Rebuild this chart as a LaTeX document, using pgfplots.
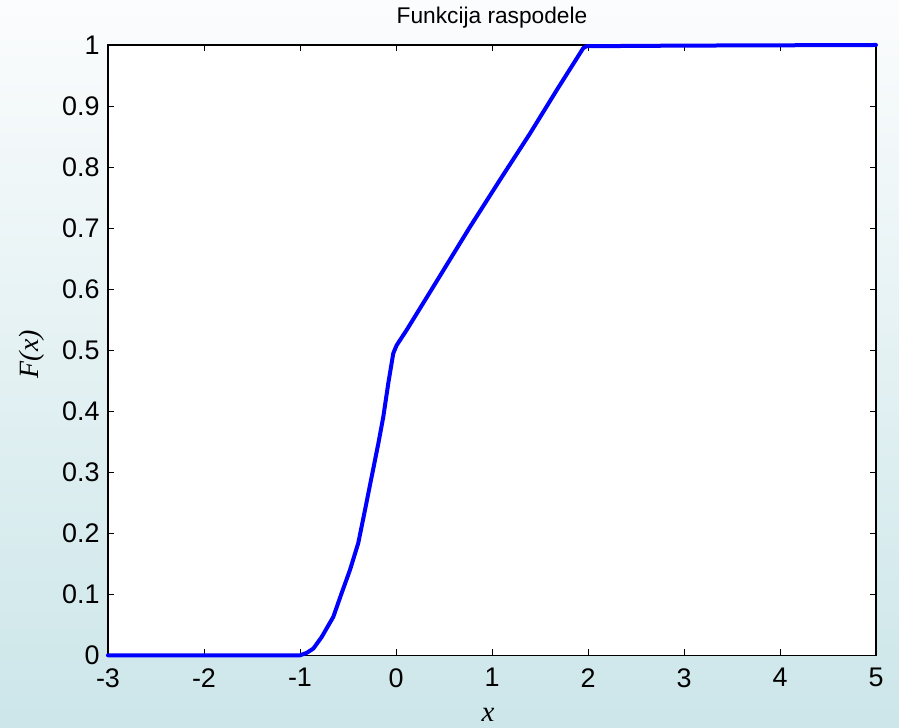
\documentclass[border=0pt]{standalone}
\usepackage{pgfplots}
\pgfplotsset{compat=1.18}
\usepackage{fontspec}
\setmainfont{Liberation Sans}
\newfontfamily\timesfont{Liberation Serif}
\begin{document}
\begin{tikzpicture}
\useasboundingbox (0,0) rectangle (449.5bp,364bp);
\shade[top color={rgb,255:red,251;green,252;blue,253}, bottom color={rgb,255:red,204;green,230;blue,233}] (0,0) rectangle (449.5bp,364bp);
\begin{axis}[
  at={(54bp,36.35bp)}, anchor=south west,
  scale only axis, width=384bp, height=305.15bp,
  xmin=-3, xmax=5, ymin=0, ymax=1,
  clip=false,
  axis background/.style={fill=white},
  axis line style={black, line width=0.6bp},
  tick style={black, line width=0.5bp},
  major tick length=3bp,
  tick align=inside,
  xtick={-3,-2,-1,0,1,2,3,4,5},
  xticklabels={-3,-2,-1,0,1,2,3,4,5},
  ytick={0,0.1,0.2,0.3,0.4,0.5,0.6,0.7,0.8,0.9,1},
  yticklabels={0,0.1,0.2,0.3,0.4,0.5,0.6,0.7,0.8,0.9,1},
  xticklabel style={font=\fontsize{13.5}{16}\selectfont, anchor=north, inner sep=0pt, yshift=-6.3bp},
  yticklabel style={font=\fontsize{13.5}{16}\selectfont, anchor=east, inner sep=0pt, xshift=-4bp},
  every axis title shift=0pt,
  title={Funkcija raspodele},
  title style={font=\fontsize{11.4}{13}\selectfont, at={(0.5,1)}, anchor=base, yshift=10.9bp, inner sep=0pt},
  xlabel={\timesfont\itshape x},
  xlabel style={font=\fontsize{14.5}{16}\selectfont, at={(0.5,0)}, anchor=base, yshift=-33.2bp, xshift=-2bp, inner sep=0pt},
  ylabel={\timesfont\itshape F(x)},
  ylabel style={font=\fontsize{14}{16}\selectfont, at={(0,0.5)}, anchor=center, yshift=38bp, xshift=-2bp, inner sep=0pt},
]
\addplot[blue, line width=2bp, line join=round, line cap=round] coordinates {
(-3,0) (-1,0) (-0.93,0.004) (-0.861,0.011) (-0.774,0.030) (-0.653,0.063)
(-0.566,0.102) (-0.479,0.140) (-0.393,0.184) (-0.323,0.238) (-0.253,0.293)
(-0.184,0.347) (-0.132,0.391) (-0.080,0.446) (-0.028,0.495) (0.007,0.508)
(0.111,0.533) (0.389,0.604) (0.771,0.702) (1.083,0.779) (1.396,0.855)
(1.674,0.926) (1.951,0.995) (1.986,0.998) (3,0.999) (5,1.0)
};
\end{axis}
\end{tikzpicture}
\end{document}
